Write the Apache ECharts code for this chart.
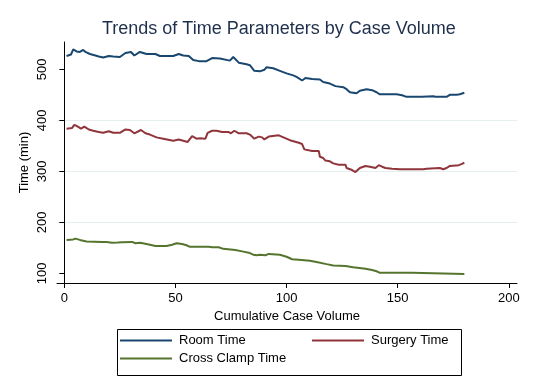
<!DOCTYPE html>
<html>
<head>
<meta charset="utf-8">
<script src="https://cdn.jsdelivr.net/npm/echarts@6/dist/echarts.min.js"></script>
<style>html,body{margin:0;padding:0;background:#fff}#c{width:536px;height:392px}</style>
</head>
<body>
<div id="c"></div>
<script>
var xTicks = [0, 50, 100, 150, 200];
var yTicks = [100, 200, 300, 400, 500];

var roomCase = [1, 3, 4, 5.5, 7, 8.5, 9.5, 11.5, 14, 15.5, 17.5, 20, 22, 25, 27.5, 30, 31.5, 34, 37, 41, 43, 49, 51.5, 53.5, 56, 58, 60.5, 64, 66.5, 70, 74.5, 76, 78.5, 82, 83.5, 85.5, 88, 90, 91, 94, 97, 100, 103, 104.5, 107, 108.5, 111.5, 115, 116.5, 119.5, 122, 125.5, 127, 128.5, 131.5, 133, 136, 138.5, 140.5, 142, 146, 146.5, 149.5, 152, 154, 161, 161.5, 166, 167, 172, 173.5, 176.5, 178, 180];
var roomTime = [526, 529, 539, 535, 534, 538, 534, 530, 527, 525, 523, 526, 525, 524, 532, 534, 527, 534, 530, 530, 526, 526, 530, 527, 526, 518, 516, 516, 522, 521, 517, 524, 513, 510, 508, 497, 496, 499, 504, 502, 497, 492, 488, 485, 478, 483, 481, 480, 475, 472, 467, 465, 461, 455, 453, 458, 461, 459, 455, 451, 451, 453, 451, 449, 446, 446, 448, 447, 446, 446, 450, 450, 451, 454];

var surgCase = [1, 3.5, 4.5, 5.5, 7.5, 9, 11, 13, 15.5, 17.5, 20, 22, 25, 27.5, 29.5, 31.5, 34.5, 36.5, 38.5, 41.5, 44.5, 49, 51.5, 53.5, 55.5, 57.5, 59.5, 61, 63.5, 64.5, 66.5, 68.5, 71, 74, 75, 76.5, 78.5, 82, 83.5, 85.5, 87.5, 89, 90, 92, 96.5, 101.5, 105.5, 107, 108, 111.5, 114.5, 115, 116.5, 117.5, 119.5, 121, 123.5, 126.5, 127, 129.5, 131, 133, 135.5, 137.5, 140, 141.5, 143, 144.5, 147.5, 151, 161.5, 163, 169, 170.5, 172, 173.5, 177.5, 179, 180];
var surgTime = [383.5, 385, 391, 389, 383.5, 387.5, 382, 379.5, 377, 375.5, 378.5, 375.5, 375.5, 382, 381, 374.5, 381, 374.5, 372, 366.5, 364, 360, 362.5, 360, 357.5, 369, 364, 365, 364, 375.5, 379.5, 379.5, 377, 377, 374.5, 379.5, 374.5, 374.5, 372, 364, 368, 366.5, 362.5, 368, 370.5, 361, 356, 353.5, 343, 340, 340, 328.5, 326, 321, 319.5, 315.5, 313, 313, 306.5, 302.5, 298.5, 306.5, 310.5, 309, 306.5, 312, 309, 306.5, 305, 304, 304, 305, 306.5, 304, 306.5, 310.5, 312, 314.5, 317];

var clampCase = [1, 4, 5, 7, 10, 17, 19, 21.5, 24, 26, 30.5, 32, 34, 37, 41, 46, 48.5, 50.5, 53, 55, 56.5, 65, 66.5, 69.5, 71.5, 77, 80, 83, 85, 86.5, 88, 90.5, 92, 97, 100, 102.5, 105.5, 110.5, 113.5, 118, 121, 126.5, 130, 135.5, 138.5, 140.5, 142, 148, 156.5, 157, 180];
var clampTime = [165.5, 166.5, 168, 165.5, 162.5, 161.5, 161.5, 160, 160.5, 161, 161.5, 159, 160, 157.5, 153.5, 153.5, 156, 159, 157.5, 155, 152, 152, 151, 151, 148, 145.5, 143, 140.5, 136.5, 135.5, 136.5, 135.5, 138, 136.5, 132.5, 127.5, 126.5, 124.5, 122, 118, 115.5, 114.5, 112, 109, 106.5, 104, 101, 101, 101, 98.5, 98.5];

function pairs(xs, ys) { return xs.map(function (x, i) { return [x, ys[i]]; }); }

var FONT = 'Liberation Sans, Arial, sans-serif';
var legendText = {fontFamily: FONT, fontSize: 13, color: '#000', padding: [0, 0, 0, 2]};
var chart = echarts.init(document.getElementById('c'), null, {renderer: 'canvas'});
chart.setOption({
  backgroundColor: '#ffffff',
  animation: false,
  title: {
    text: 'Trends of Time Parameters by Case Volume',
    left: 102, top: 20, padding: 0,
    textStyle: {fontFamily: FONT, fontSize: 18, fontWeight: 'normal', color: '#1e2f4c'}
  },
  grid: {left: 57, top: 42, width: 460, height: 241},
  xAxis: {
    type: 'value', min: -3.3, max: 203.7,
    name: 'Cumulative Case Volume', nameLocation: 'middle', nameGap: 20,
    nameTextStyle: {fontFamily: FONT, fontSize: 13, color: '#000'},
    axisLine: {show: true, lineStyle: {color: '#000', width: 1}},
    axisTick: {show: true, length: 5, customValues: xTicks, lineStyle: {color: '#000'}},
    axisLabel: {customValues: xTicks, margin: 9, fontFamily: FONT, fontSize: 13, color: '#000'},
    splitLine: {show: false}
  },
  yAxis: {
    type: 'value', min: 81, max: 553.5,
    name: 'Time (min)', nameLocation: 'middle', nameGap: 26, nameMoveOverlap: false,
    nameTextStyle: {fontFamily: FONT, fontSize: 13, color: '#000'},
    axisLine: {show: true, lineStyle: {color: '#000', width: 1}},
    axisTick: {show: true, length: 5, customValues: yTicks, lineStyle: {color: '#000'}},
    axisLabel: {customValues: yTicks, rotate: 90, margin: 8, fontFamily: FONT, fontSize: 13, color: '#000'},
    splitLine: {show: true, showMinLine: false, showMaxLine: false, lineStyle: {color: '#e6eeee', width: 1}}
  },
  legend: [
    {data: ['Room Time'], left: 120, top: 334, padding: 0, icon: 'rect', itemWidth: 52, itemHeight: 2, itemGap: 0,
     textStyle: legendText},
    {data: ['Surgery Time'], left: 312, top: 334, padding: 0, icon: 'rect', itemWidth: 52, itemHeight: 2, itemGap: 0,
     textStyle: legendText},
    {data: ['Cross Clamp Time'], left: 120, top: 352, padding: 0, icon: 'rect', itemWidth: 52, itemHeight: 2, itemGap: 0,
     textStyle: legendText}
  ],
  graphic: [{
    type: 'rect', left: 115, top: 327, silent: true,
    shape: {width: 344, height: 46},
    style: {fill: null, stroke: '#000', lineWidth: 1}
  }],
  series: [
    {name: 'Room Time', type: 'line', data: pairs(roomCase, roomTime), showSymbol: false, symbol: 'none',
     color: '#1a476f', lineStyle: {width: 2, color: '#1a476f'}},
    {name: 'Surgery Time', type: 'line', data: pairs(surgCase, surgTime), showSymbol: false, symbol: 'none',
     color: '#90353b', lineStyle: {width: 2, color: '#90353b'}},
    {name: 'Cross Clamp Time', type: 'line', data: pairs(clampCase, clampTime), showSymbol: false, symbol: 'none',
     color: '#55752f', lineStyle: {width: 2, color: '#55752f'}}
  ]
});
</script>
</body>
</html>
